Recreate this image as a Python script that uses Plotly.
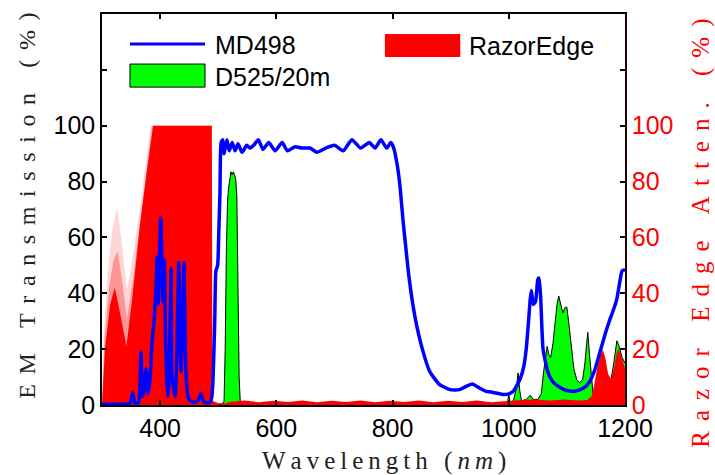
import plotly.graph_objects as go

# ---- MD498 emission filter transmission (%) ----
md498_nm = [300, 340, 348, 353, 357, 363, 367, 370, 376, 379, 383, 386, 390, 393, 395, 397,
            401, 405, 407, 409, 411, 413, 415, 419, 420, 423, 426, 429, 432, 434, 436, 438,
            441, 444, 448, 452, 458, 465, 470, 474, 480, 486, 489, 491, 494, 496, 499, 501,
            503, 505, 508, 510, 515, 519, 524, 529, 534, 541, 549, 555, 561, 569, 577, 587,
            598, 610, 619, 632, 644, 658, 670, 685, 700, 715, 730, 745, 760, 770, 780, 790,
            797, 802, 808, 813, 818, 822, 827, 832, 840, 850, 864, 880, 899, 915, 925, 937,
            950, 960, 973, 990, 1000, 1008, 1014, 1020, 1026, 1030, 1034, 1037, 1039, 1042,
            1046, 1050, 1052, 1055, 1059, 1067, 1075, 1083, 1095, 1105, 1115, 1128, 1138,
            1148, 1157, 1166, 1173, 1180, 1186, 1191, 1195, 1200]
md498_val = [0.3, 0.3, 0.5, 4.5, 0.5, 1, 19, 3, 13, 4, 10, 22, 31, 42, 53, 36,
             67, 37, 52, 28, 12, 3, 8, 49, 12, 6, 3, 20, 51, 30, 12, 25,
             51, 14, 3, 1.5, 1, 1.5, 4, 1.5, 0.8, 1, 3, 9, 30, 48, 50, 62,
             76, 94, 95, 90, 95, 91, 94, 91, 93.5, 90.5, 93, 92, 93, 95, 91.5, 94,
             91, 94, 91, 92.5, 92, 92, 90.5, 92, 93, 91, 95, 92, 94, 92, 95, 92,
             94, 92, 86, 78, 66, 58, 48, 40, 30, 21, 12, 7.5, 5.5, 5.5, 6.5, 7.5,
             6, 5, 4.5, 3.8, 4, 5, 7, 9.5, 14, 20, 30, 38, 41, 36,
             37, 45, 45.5, 38, 20, 12, 8.5, 7, 5.5, 5, 5, 6, 8,
             12.5, 19, 25.5, 30, 34, 38, 44, 48, 48.5]

# ---- D525/20m filter transmission (%) ----
d525_nm = [300, 505, 510, 512, 514, 516, 518, 520, 522, 524, 526, 528, 530, 532, 534, 536,
           538, 545, 995, 998, 1000, 1002, 1008, 1013, 1016, 1019, 1022, 1030, 1037, 1042,
           1050, 1056, 1060, 1064, 1066, 1069, 1072, 1076, 1080, 1083, 1086, 1089, 1093,
           1097, 1100, 1104, 1108, 1112, 1117, 1122, 1127, 1131, 1134, 1136, 1139, 1142,
           1145, 1150, 1156, 1162, 1168, 1175, 1180, 1186, 1190, 1195, 1200]
d525_val = [0.3, 0.3, 1, 20, 55, 73, 78, 82, 83.5, 82.5, 83.5, 82.5, 81, 75, 45, 10,
            1, 0.3, 0.3, 1, 4, 1, 1.5, 6, 11.5, 5, 1.5, 2, 3.5, 2,
            2, 4, 12, 18, 21, 18, 17, 22, 30.5, 36, 39, 36, 33,
            35, 35, 28, 20, 13, 9, 8, 9, 15, 22, 26, 18, 10,
            4, 3, 6, 12, 10, 8, 14, 23, 21, 17, 15]

# ---- RazorEdge attenuation (%) at several incidence angles ----
razor_nm = [300, 305, 314, 322, 332, 342, 352, 365, 378, 388, 489, 490, 500, 512, 520,
            545, 570, 595, 620, 645, 670, 695, 720, 745, 770, 795, 820, 845, 870, 895,
            920, 945, 970, 995, 1020, 1045, 1070, 1095, 1120, 1135, 1142, 1146, 1152, 1158,
            1162, 1166, 1171, 1176, 1181, 1186, 1189, 1193, 1197, 1200]
razor_val = [0, 20, 36, 42, 32, 21, 38, 64, 85, 100, 100, 1.5, 0.6, 0.5, 1.2,
             1.6, 1.0, 1.5, 1.1, 1.6, 1.0, 1.5, 1.1, 1.6, 1.0, 1.5, 1.1, 1.6, 1.0, 1.5,
             1.1, 1.6, 1.0, 1.5, 1.8, 2.0, 1.6, 2.0, 1.6, 1.8, 3, 6, 13, 18,
             19.7, 17, 11, 9.3, 13, 19, 20, 18, 15, 13]
razor_wide_nm = [300, 303, 310, 318, 326, 333, 343, 352, 365, 376, 384, 489, 490]
razor_wide_val = [0, 25, 48, 63, 71, 60, 41, 52, 70, 88, 100, 100, 0]
razor_mid_nm = [300, 304, 312, 320, 327, 335, 343, 354, 367, 379, 386, 489, 490]
razor_mid_val = [0, 22, 42, 52, 55, 44, 31, 46, 68, 88, 100, 100, 0]

names = ["MD498", "D525/20m", "RazorEdge"]
y_ticks = [0, 20, 40, 60, 80, 100, 120, 140]
y_tick_text = ["0", "20", "40", "60", "80", "100", "", ""]
x_ticks = [400, 600, 800, 1000, 1200]

BLUE = "#0000ff"
GREEN = "#00ff00"
RED = "#ff0000"
SANS = "Liberation Sans, Arial, sans-serif"
SERIF = "Liberation Serif, Times New Roman, serif"

fig = go.Figure()

fig.add_trace(go.Scatter(x=d525_nm, y=d525_val, mode="lines", fill="tozeroy",
                         fillcolor=GREEN, line=dict(color="black", width=1),
                         name=names[1], showlegend=False))

# soft angular spread of the RazorEdge edge, then the main curve
fig.add_trace(go.Scatter(x=razor_wide_nm, y=razor_wide_val, mode="lines", fill="tozeroy",
                         fillcolor="rgba(255,0,0,0.16)", line=dict(width=0),
                         yaxis="y2", showlegend=False, hoverinfo="skip"))
fig.add_trace(go.Scatter(x=razor_mid_nm, y=razor_mid_val, mode="lines", fill="tozeroy",
                         fillcolor="rgba(255,0,0,0.3)", line=dict(width=0),
                         yaxis="y2", showlegend=False, hoverinfo="skip"))
fig.add_trace(go.Scatter(x=razor_nm, y=razor_val, mode="lines", fill="tozeroy",
                         fillcolor=RED, line=dict(width=0, color=RED),
                         yaxis="y2", name=names[2], showlegend=False))

# drawn on the overlaying axis (same 0-140 scale) so it stays above the red fill
fig.add_trace(go.Scatter(x=md498_nm, y=md498_val, mode="lines", yaxis="y2",
                         line=dict(color=BLUE, width=3.5, shape="spline", smoothing=0.5),
                         name=names[0], showlegend=False))


def spaced(text, gap):
    return gap.join(list(text))


THIN = "\u2009"

fig.update_layout(
    width=715, height=475,
    margin=dict(l=102, r=90, t=14, b=70),
    paper_bgcolor="white", plot_bgcolor="white",
    showlegend=False,
    xaxis=dict(range=[300, 1200], tickvals=x_ticks, ticks="inside", ticklen=5,
               tickwidth=1.5, tickcolor="black", showline=True, linecolor="black",
               linewidth=1.5, mirror="ticks", showgrid=False, zeroline=False,
               tickfont=dict(family=SANS, size=25, color="black")),
    yaxis=dict(range=[0, 140], tickvals=y_ticks, ticktext=y_tick_text, ticks="inside",
               ticklen=5, tickwidth=1.5, tickcolor="black", showline=True,
               linecolor="black", linewidth=1.5, showgrid=False, zeroline=False,
               tickfont=dict(family=SANS, size=25, color="black")),
    yaxis2=dict(range=[0, 140], tickvals=y_ticks, ticktext=y_tick_text, ticks="inside",
                ticklen=5, tickwidth=1.5, tickcolor="#200000", showline=True,
                linecolor="#200000", linewidth=1.5, showgrid=False, zeroline=False,
                overlaying="y", side="right",
                tickfont=dict(family=SANS, size=25, color=RED)),
)

# axis titles
fig.add_annotation(text=spaced("Wavelength (", THIN) + THIN + "<i>n" + THIN + "m</i>" + THIN + ")",
                   xref="paper", yref="paper", x=0.54, y=-0.143, xanchor="center",
                   yanchor="middle", showarrow=False,
                   font=dict(family=SERIF, size=25, color="#222222"))
fig.add_annotation(text=spaced("EM Transmission (%)", THIN + THIN),
                   xref="paper", yref="paper", x=-0.145, y=0.51, xanchor="center",
                   yanchor="middle", textangle=-90, showarrow=False,
                   font=dict(family=SERIF, size=24, color="#222222"))
fig.add_annotation(text=spaced("Razor Edge Atten. (%)", THIN + THIN),
                   xref="paper", yref="paper", x=1.145, y=0.44, xanchor="center",
                   yanchor="middle", textangle=-90, showarrow=False,
                   font=dict(family=SERIF, size=25, color=RED))

# legend keys
fig.add_shape(type="line", xref="paper", yref="paper", x0=0.0535, x1=0.197,
              y0=0.923, y1=0.923, line=dict(color=BLUE, width=3))
fig.add_shape(type="rect", xref="paper", yref="paper", x0=0.0535, x1=0.197,
              y0=0.813, y1=0.872, fillcolor=GREEN, line=dict(color="black", width=1))
fig.add_shape(type="rect", xref="paper", yref="paper", x0=0.541, x1=0.685,
              y0=0.890, y1=0.949, fillcolor=RED, line=dict(color=RED, width=0))
for label, lx, ly in [(names[0], 0.212, 0.921), (names[1], 0.212, 0.840),
                      (names[2], 0.698, 0.918)]:
    fig.add_annotation(text=label, xref="paper", yref="paper", x=lx, y=ly,
                       xanchor="left", yanchor="middle", showarrow=False,
                       font=dict(family=SANS, size=25, color="black"))

fig.write_html("out.html")
